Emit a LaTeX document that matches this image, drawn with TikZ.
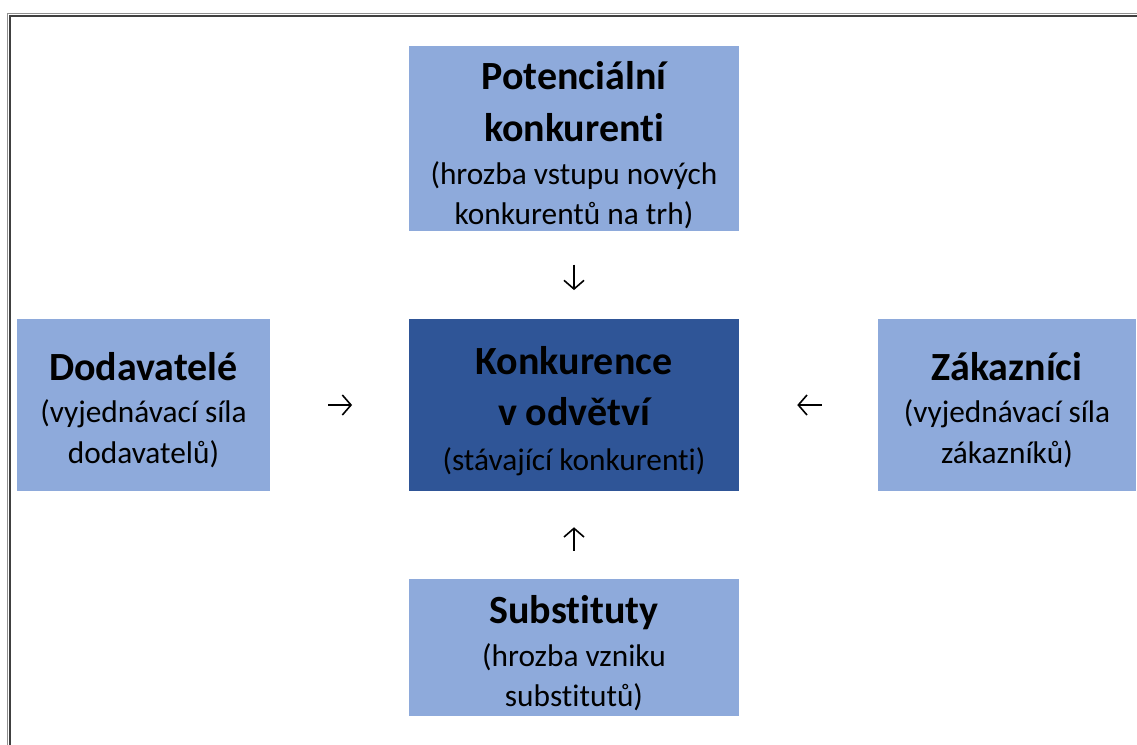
\documentclass[tikz,border=0pt]{standalone}
\usepackage{fontspec}
\setmainfont{Carlito}[Ligatures={NoCommon}]
\usetikzlibrary{arrows.meta}
\definecolor{lightblue}{HTML}{8EAADB}
\definecolor{darkblue}{HTML}{2F5597}
\definecolor{frameouter}{HTML}{909090}
\definecolor{frameinner}{HTML}{404040}
\tikzset{
  box/.style={rectangle, inner sep=0pt, draw=none},
  lightbox/.style={box, fill=lightblue},
  darkbox/.style={box, fill=darkblue},
  title/.style={anchor=base, inner sep=0pt, font=\fontsize{30}{36}\selectfont\bfseries},
  sub/.style={anchor=base, inner sep=0pt, font=\fontsize{23.5}{28}\selectfont},
  force/.style={-{Straight Barb[length=6.5pt,width=15pt]}, line width=1.2pt, black},
}
\begin{document}
\begin{tikzpicture}[x=0.75pt, y=-0.75pt]
  \useasboundingbox (0,0) rectangle (1137,744);
  \begin{scope}
    \clip (0,0) rectangle (1137,744);
    % double page frame, running off the right and bottom edges
    \draw[frameouter, line width=1pt] (7.3,760) -- (7.3,13.3) -- (1160,13.3);
    \draw[frameinner, line width=1.9pt] (9.9,760) -- (9.9,15.8) -- (1160,15.8);
  \end{scope}

  % boxes
  \node[lightbox, minimum width=247.5pt, minimum height=138.75pt] (pot) at (574,138.5) {};
  \node[darkbox, minimum width=247.5pt, minimum height=129pt] (kon) at (574,405) {};
  \node[lightbox, minimum width=189.75pt, minimum height=129pt] (dod) at (143.5,405) {};
  \node[lightbox, minimum width=193.5pt, minimum height=129pt] (zak) at (1007,405) {};
  \node[lightbox, minimum width=247.5pt, minimum height=102.75pt] (sub) at (574,647.5) {};

  % texts
  \node[title] (potT1) at (574,89) {Potenciální};
  \node[title] (potT2) at (574,141) {konkurenti};
  \node[sub] (potS1) at (574,184) {(hrozba vstupu nových};
  \node[sub] (potS2) at (574,224) {konkurentů na trh)};

  \node[title] (konT1) at (574,374) {Konkurence};
  \node[title] (konT2) at (574,425) {v odvětví};
  \node[sub] (konS1) at (574,470) {(stávající konkurenti)};

  \node[title] (dodT1) at (143.5,380) {Dodavatelé};
  \node[sub] (dodS1) at (143.5,422) {(vyjednávací síla};
  \node[sub] (dodS2) at (143.5,463) {dodavatelů)};

  \node[title] (zakT1) at (1007,380) {Zákazníci};
  \node[sub] (zakS1) at (1007,422) {(vyjednávací síla};
  \node[sub] (zakS2) at (1007,463) {zákazníků)};

  \node[title] (subT1) at (574,623) {Substituty};
  \node[sub] (subS1) at (574,666) {(hrozba vzniku};
  \node[sub] (subS2) at (574,706) {substitutů)};

  % forces acting on the industry
  \draw[force, shorten <=25pt, shorten >=21.5pt] (pot.south) -- (kon.north);
  \draw[force, shorten <=43.5pt, shorten >=42.5pt] (dod.east) -- (kon.west);
  \draw[force, shorten <=42pt, shorten >=43.5pt] (zak.west) -- (kon.east);
  \draw[force, shorten <=21pt, shorten >=27pt] (sub.north) -- (kon.south);
\end{tikzpicture}
\end{document}
